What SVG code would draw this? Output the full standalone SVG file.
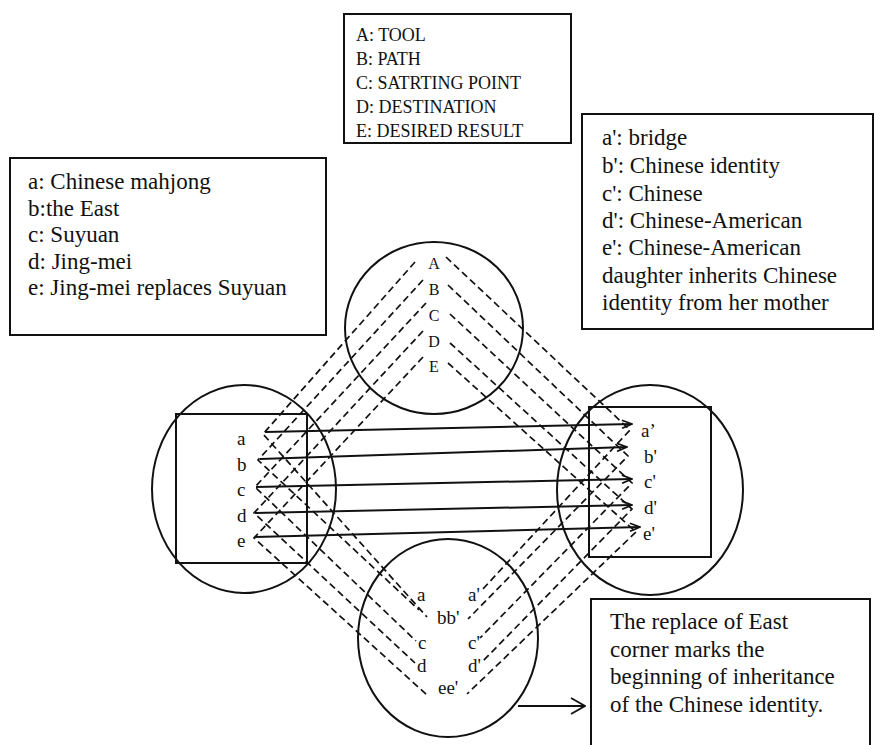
<svg xmlns="http://www.w3.org/2000/svg" width="875" height="745" viewBox="0 0 875 745">
  <style>
    .txt { font-family: "Liberation Serif", "Times New Roman", serif; fill: #111; }
    .box { fill: #fff; stroke: #111; stroke-width: 2; }
    .ring { fill: none; stroke: #111; stroke-width: 2; }
    .frame { fill: none; stroke: #111; stroke-width: 2; }
    .dash { fill: none; stroke: #111; stroke-width: 1.7; stroke-dasharray: 7 4; }
    .map { fill: none; stroke: #111; stroke-width: 2; marker-end: url(#open); }
    .lbl { font-size: 23px; }
    .leg { font-size: 18px; }
    .sm { font-size: 19px; }
    .xs { font-size: 16px; }
  </style>
  <defs>
    <marker id="open" viewBox="0 0 12 10" refX="11" refY="5" markerWidth="12" markerHeight="10" markerUnits="userSpaceOnUse" orient="auto">
      <path d="M1,1 L11,5 L1,9" fill="none" stroke="#111" stroke-width="1.8"/>
    </marker>
    <marker id="openBig" viewBox="0 0 16 18" refX="15" refY="9" markerWidth="16" markerHeight="18" markerUnits="userSpaceOnUse" orient="auto">
      <path d="M1,1 L15,9 L1,17" fill="none" stroke="#111" stroke-width="1.8"/>
    </marker>
  </defs>
  <rect width="875" height="745" fill="#fff"/>

  <!-- legend boxes -->
  <g id="legend-top">
    <rect class="box" x="344" y="14" width="227" height="129"/>
    <text class="txt leg" x="356" y="41">A: TOOL</text>
    <text class="txt leg" x="356" y="65">B: PATH</text>
    <text class="txt leg" x="356" y="89">C: SATRTING POINT</text>
    <text class="txt leg" x="356" y="113">D: DESTINATION</text>
    <text class="txt leg" x="356" y="137">E: DESIRED RESULT</text>
  </g>
  <g id="legend-left">
    <rect class="box" x="10" y="158" width="316" height="177"/>
    <text class="txt lbl" x="28" y="189">a: Chinese mahjong</text>
    <text class="txt lbl" x="28" y="215.5">b:the East</text>
    <text class="txt lbl" x="28" y="242">c: Suyuan</text>
    <text class="txt lbl" x="28" y="268.5">d: Jing-mei</text>
    <text class="txt lbl" x="28" y="295">e: Jing-mei replaces Suyuan</text>
  </g>
  <g id="legend-right">
    <rect class="box" x="582" y="114" width="291" height="215"/>
    <text class="txt lbl" x="602" y="145">a': bridge</text>
    <text class="txt lbl" x="602" y="173">b': Chinese identity</text>
    <text class="txt lbl" x="602" y="200.5">c': Chinese</text>
    <text class="txt lbl" x="602" y="227.5">d': Chinese-American</text>
    <text class="txt lbl" x="602" y="255">e': Chinese-American</text>
    <text class="txt lbl" x="602" y="282.5">daughter inherits Chinese</text>
    <text class="txt lbl" x="602" y="310">identity from her mother</text>
  </g>
  <g id="note">
    <rect class="box" x="591" y="599" width="279" height="160"/>
    <text class="txt lbl" x="610" y="629">The replace of East</text>
    <text class="txt lbl" x="610" y="657">corner marks the</text>
    <text class="txt lbl" x="610" y="684">beginning of inheritance</text>
    <text class="txt lbl" x="610" y="712">of the Chinese identity.</text>
  </g>

  <!-- four circles -->
  <g id="circle-top">
    <ellipse class="ring" cx="434" cy="328" rx="89" ry="86"/>
    <text class="txt xs" x="434" y="269" text-anchor="middle">A</text>
    <text class="txt xs" x="434" y="295" text-anchor="middle">B</text>
    <text class="txt xs" x="434" y="321" text-anchor="middle">C</text>
    <text class="txt xs" x="434" y="347" text-anchor="middle">D</text>
    <text class="txt xs" x="434" y="372" text-anchor="middle">E</text>
  </g>
  <g id="circle-left">
    <ellipse class="ring" cx="244" cy="489" rx="92" ry="104"/>
    <rect class="frame" x="176" y="414" width="131" height="149"/>
    <text class="txt sm" x="237" y="445">a</text>
    <text class="txt sm" x="237" y="471">b</text>
    <text class="txt sm" x="237" y="496">c</text>
    <text class="txt sm" x="237" y="522">d</text>
    <text class="txt sm" x="237" y="547">e</text>
  </g>
  <g id="circle-right">
    <ellipse class="ring" cx="650" cy="490" rx="93" ry="105"/>
    <rect class="frame" x="589" y="407" width="122" height="150"/>
    <text class="txt sm" x="641" y="437">a’</text>
    <text class="txt sm" x="644" y="463">b'</text>
    <text class="txt sm" x="644" y="488">c'</text>
    <text class="txt sm" x="644" y="514">d'</text>
    <text class="txt sm" x="643" y="540">e'</text>
  </g>
  <g id="circle-bottom">
    <ellipse class="ring" cx="448" cy="638" rx="90" ry="99"/>
    <text class="txt sm" x="417" y="601">a</text>
    <text class="txt sm" x="468" y="601">a'</text>
    <text class="txt sm" x="437" y="624">bb'</text>
    <text class="txt sm" x="418" y="649">c</text>
    <text class="txt sm" x="468" y="649">c'</text>
    <text class="txt sm" x="417" y="672">d</text>
    <text class="txt sm" x="468" y="672">d'</text>
    <text class="txt sm" x="438" y="694">ee'</text>
  </g>

  <g id="connectors">
    <!-- dashed paths: top apex to left corner to bottom -->
    <polyline class="dash" points="415,262 263,434 427,617"/>
    <polyline class="dash" points="423,280 258,460 419,610"/>
    <polyline class="dash" points="426,303 255,487 416,641"/>
    <polyline class="dash" points="423,331 254,513 415,663"/>
    <polyline class="dash" points="423,357 254,538 427,695"/>
    <!-- dashed paths: top apex to right corner to bottom -->
    <polyline class="dash" points="446,257 630,430 482,590"/>
    <polyline class="dash" points="448,285 628,456 468,619"/>
    <polyline class="dash" points="450,314 632,483 480,638"/>
    <polyline class="dash" points="450,343 632,509 482,662"/>
    <polyline class="dash" points="448,363 636,532 467,694"/>
    <!-- mappings left to right -->
    <line class="map" x1="265" y1="432" x2="632" y2="424"/>
    <line class="map" x1="260" y1="459" x2="627" y2="447"/>
    <line class="map" x1="256" y1="487" x2="632" y2="479"/>
    <line class="map" x1="255" y1="513" x2="632" y2="505"/>
    <line class="map" x1="255" y1="537" x2="640" y2="527"/>
    <!-- pointer to the note -->
    <line x1="518" y1="706" x2="585" y2="706" stroke="#111" stroke-width="2" marker-end="url(#openBig)"/>
  </g>
</svg>
